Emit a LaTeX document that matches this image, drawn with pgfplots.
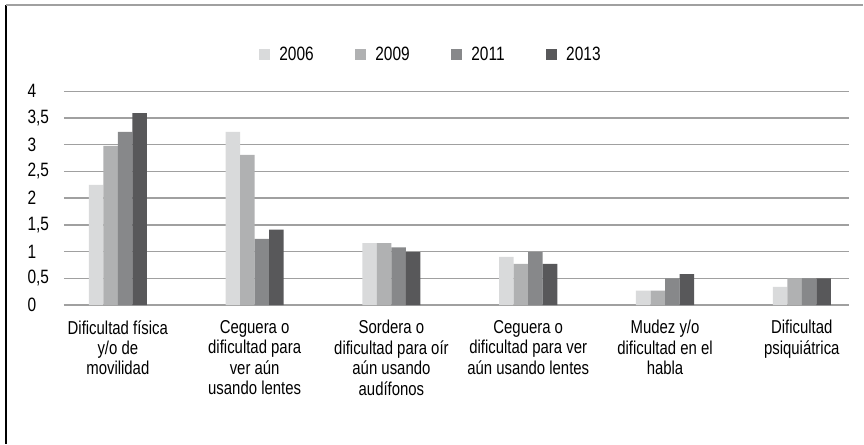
\documentclass[border=0pt]{standalone}
\usepackage{pgfplots}
\pgfplotsset{compat=1.18}
\usepackage{fontspec}
\setmainfont{Liberation Sans}[FakeStretch=0.8]
\definecolor{cA}{HTML}{D9DADB}
\definecolor{cB}{HTML}{B0B1B2}
\definecolor{cC}{HTML}{87888A}
\definecolor{cD}{HTML}{58585A}
\definecolor{gridc}{HTML}{A0A0A0}
\begin{document}
\begin{tikzpicture}
\path (0,0) rectangle (648pt,333pt);
\draw[line width=1.1pt, black] (4.5pt,0) -- (4.5pt,329.25pt);
\draw[line width=1.1pt, gridc] (4.5pt,329.25pt) -- (648pt,329.25pt);
\begin{axis}[
  at={(48pt,104pt)}, anchor=south west,
  scale only axis, width=589.5pt, height=160.5pt,
  xmin=-0.394, xmax=5.347, ymin=0, ymax=4,
  ybar=0pt, bar width=10.9pt,
  axis x line*=bottom, axis y line*=left,
  x axis line style={gridc, line width=1pt, -},
  y axis line style={draw=none},
  ymajorgrids, grid style={gridc, line width=1pt},
  ytick={0,0.5,...,4},
  yticklabel style={anchor=west, inner xsep=0pt, xshift=-27.5pt,
     /pgf/number format/.cd, fixed, use comma, precision=1, assume math mode=true},
  xtick={0,1,2,3,4,5},
  xticklabels={{Dificultad física\\y/o de\\movilidad},
    {Ceguera o\\dificultad para\\ver aún\\usando lentes},
    {Sordera o\\dificultad para oír\\aún usando\\audífonos},
    {Ceguera o\\dificultad para ver\\aún usando lentes},
    {Mudez y/o\\dificultad en el\\habla},
    {Dificultad\\psiquiátrica}},
  xticklabel style={align=center, anchor=north, yshift=-8pt, font=\fontsize{14pt}{15.3pt}\selectfont},
  major tick length=0pt,
  tick label style={font=\fontsize{14.5pt}{15.3pt}\selectfont},
  legend style={at={(0.4676,1.1696)}, anchor=center, draw=none, fill=none,
     legend columns=4, font=\fontsize{14.5pt}{15.3pt}\selectfont,
     /tikz/every odd column/.append style={column sep=5pt},
     /tikz/every even column/.append style={column sep=29pt}},
  legend image code/.code={\fill[#1] (0pt,-4pt) rectangle (8.25pt,4.25pt);},
  every axis plot/.append style={draw=none},
]
\addplot[fill=cA] coordinates {(0,2.25) (1,3.24) (2,1.16) (3,0.90) (4,0.27) (5,0.34)};
\addplot[fill=cB] coordinates {(0,2.98) (1,2.81) (2,1.16) (3,0.77) (4,0.27) (5,0.50)};
\addplot[fill=cC] coordinates {(0,3.24) (1,1.24) (2,1.08) (3,0.99) (4,0.50) (5,0.50)};
\addplot[fill=cD] coordinates {(0,3.59) (1,1.41) (2,0.99) (3,0.77) (4,0.58) (5,0.50)};
\legend{2006,2009,2011,2013}
\end{axis}
\end{tikzpicture}
\end{document}
